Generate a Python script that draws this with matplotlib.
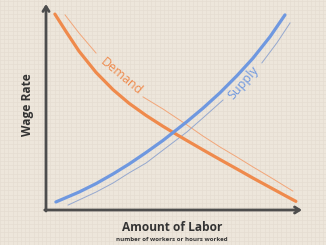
import matplotlib
matplotlib.use("Agg")
import matplotlib.pyplot as plt
import numpy as np

# ---- data (labor amount x, wage rate y; arbitrary 0-10 units) ----
demand_x = [0.35, 0.79, 1.30, 1.97, 2.64, 3.27, 3.94, 4.61, 5.04, 5.55,
            6.18, 6.85, 7.52, 8.15, 8.82, 9.49, 9.84]
demand_y = [9.51, 8.66, 7.71, 6.68, 5.84, 5.18, 4.59, 4.06, 3.74, 3.37,
            2.92, 2.45, 1.99, 1.55, 1.10, 0.65, 0.42]

# thin offset demand line: upper piece and lower piece (gap under label)
demand2a_x = [0.75, 1.30, 1.97]
demand2a_y = [9.47, 8.59, 7.62]
demand2b_x = [3.82, 4.61, 5.55, 6.18, 6.85, 7.52, 8.15, 8.82, 9.72]
demand2b_y = [5.49, 4.90, 4.13, 3.59, 3.06, 2.57, 2.09, 1.60, 0.92]

supply_x = [0.39, 1.30, 1.97, 2.64, 3.27, 3.94, 4.61, 5.55, 6.18, 6.85,
            7.52, 8.15, 8.82, 9.41]
supply_y = [0.39, 0.87, 1.28, 1.75, 2.23, 2.79, 3.38, 4.29, 4.94, 5.69,
            6.52, 7.37, 8.41, 9.47]

# thin offset supply line: lower piece and upper piece (gap under label)
supply2a_x = [0.87, 1.97, 2.64, 3.27, 3.94, 4.61, 5.55, 6.18, 6.97]
supply2a_y = [0.24, 0.87, 1.31, 1.80, 2.28, 2.91, 3.79, 4.47, 5.34]
supply2b_x = [8.50, 9.09, 9.61]
supply2b_y = [7.14, 8.11, 9.08]

x_label = "Amount of Labor"
x_sublabel = "number of workers or hours worked"
y_label = "Wage Rate"
demand_label = "Demand"
supply_label = "Supply"

BG = "#ede6db"
GRID = "#e5ddd1"
AXC = "#4d4d4d"
ORANGE = "#ef8a4c"
ORANGE_T = "#f2a679"
BLUE = "#6f98e0"
BLUE_T = "#95a8cf"
TXT = "#333333"

plt.rcParams['font.family'] = ['Open Sans', 'DejaVu Sans']

W, H = 326, 245
fig = plt.figure(figsize=(W / 100, H / 100), dpi=100)
fig.patch.set_facecolor(BG)

# background graph-paper grid
bg = fig.add_axes([0, 0, 1, 1], zorder=0)
bg.set_xlim(0, W)
bg.set_ylim(0, H)
bg.set_facecolor(BG)
bg.set_xticks(np.arange(0, W, 4.2))
bg.set_yticks(np.arange(0, H, 4.2))
bg.grid(True, color=GRID, lw=0.5)
bg.tick_params(length=0, labelbottom=False, labelleft=False)
for s in bg.spines.values():
    s.set_visible(False)

# main axes: px 46..302 horizontally, 210..4 vertically (from top)
left, right, bottom_px, top_px = 46, 302, 210, 4
ax = fig.add_axes([left / W, (H - bottom_px) / H, (right - left) / W,
                   (bottom_px - top_px) / H], zorder=1)
ax.set_xlim(0, 10.08)
ax.set_ylim(0, 10)
ax.patch.set_alpha(0)
ax.set_xticks([])
ax.set_yticks([])
for s in ax.spines.values():
    s.set_visible(False)

# axis arrows
arrow = dict(arrowstyle='->,head_length=0.35,head_width=0.22', lw=2,
             color=AXC, shrinkA=0, shrinkB=0)
ax.annotate('', xy=(0, 10), xytext=(0, -0.05), arrowprops=arrow,
            annotation_clip=False)
ax.annotate('', xy=(10.08, 0), xytext=(-0.05, 0), arrowprops=arrow,
            annotation_clip=False)

# curves
for xs, ys in [(demand2a_x, demand2a_y), (demand2b_x, demand2b_y)]:
    ax.plot(xs, ys, color=ORANGE_T, lw=0.7, zorder=2)
for xs, ys in [(supply2a_x, supply2a_y), (supply2b_x, supply2b_y)]:
    ax.plot(xs, ys, color=BLUE_T, lw=0.7, zorder=2)
ax.plot(demand_x, demand_y, color=ORANGE, lw=2.3, zorder=4,
        solid_capstyle='round', solid_joinstyle='round')
ax.plot(supply_x, supply_y, color=BLUE, lw=2.3, zorder=4,
        solid_capstyle='round', solid_joinstyle='round')

# curve labels
ax.text(2.95, 6.50, demand_label, rotation=-40, rotation_mode='anchor',
        ha='center', va='center', color=ORANGE, fontsize=9, zorder=3)
ax.text(7.76, 6.17, supply_label, rotation=49, rotation_mode='anchor',
        ha='center', va='center', color=BLUE, fontsize=9, zorder=3)

# axis titles
fig.text(172 / W, 1 - 227 / H, x_label, ha='center', va='center',
         fontsize=8.6, fontweight='bold', color=TXT)
fig.text(172 / W, 1 - 239.5 / H, x_sublabel, ha='center', va='center',
         fontsize=4.4, fontweight='bold', color=TXT)
fig.text(28 / W, 1 - 105 / H, y_label, ha='center', va='center',
         rotation=90, fontsize=8.6, fontweight='bold', color=TXT)

fig.savefig("out.png", dpi=100, facecolor=BG)
